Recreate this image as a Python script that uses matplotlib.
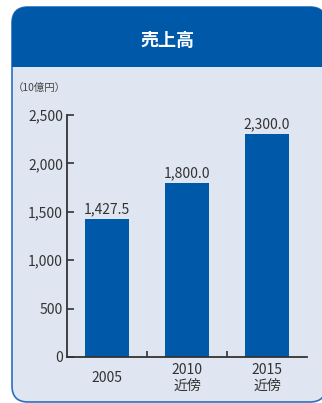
import matplotlib
matplotlib.use("Agg")
import matplotlib.pyplot as plt
from matplotlib.patches import FancyBboxPatch, Rectangle
from matplotlib.ticker import FuncFormatter

plt.rcParams['font.family'] = ['Noto Sans CJK JP', 'DejaVu Sans']

# sales (billion yen)
years = ["2005", "2010\n近傍", "2015\n近傍"]
sales = [1427.5, 1800.0, 2300.0]
yticks = [0, 500, 1000, 1500, 2000, 2500]

BLUE = "#0058a8"
PANEL = "#dfe5f1"
EDGE = "#2a6fc2"
TEXT = "#333333"

W, H = 322, 403
fig = plt.figure(figsize=(W / 100, H / 100), dpi=100)

# background layer in pixel coordinates
bg = fig.add_axes([0, 0, 1, 1])
bg.set_xlim(0, W)
bg.set_ylim(H, 0)
bg.axis("off")

panel = FancyBboxPatch((12, 7), 314, 395, boxstyle="round,pad=0,rounding_size=16",
                       facecolor=PANEL, edgecolor=EDGE, linewidth=1.2, zorder=1)
bg.add_patch(panel)
header = Rectangle((0, 0), W, 67, facecolor=BLUE, edgecolor="none", zorder=2)
bg.add_patch(header)
header.set_clip_path(panel)

bg.text(167, 40, "売上高", color="white", fontsize=13, fontweight="bold",
        ha="center", va="center", zorder=3)
bg.text(13, 88, "（10億円）", color="#444444", fontsize=7.5, ha="left", va="center", zorder=3)

# chart
ax = fig.add_axes([67 / W, 46 / H, 240 / W, 242 / H])
ax.patch.set_alpha(0)
x = list(range(len(years)))
bars = ax.bar(x, sales, width=0.54, color=BLUE, zorder=2)
for xi, v in zip(x, sales):
    ax.text(xi, v + 30, f"{v:,.1f}", ha="center", va="bottom", fontsize=10, color=TEXT)

ax.set_xlim(-0.5, 2.5)
ax.set_ylim(0, 2500)
ax.set_yticks(yticks)
ax.yaxis.set_major_formatter(FuncFormatter(lambda v, p: f"{v:,.0f}"))

ax.set_xticks([0.5, 1.5])
ax.set_xticklabels([])
ax.set_xticks(x, years, minor=True)
ax.tick_params(axis="x", which="major", direction="in", length=4, width=1.2, color=TEXT)
ax.tick_params(axis="x", which="minor", length=0, pad=15, labelsize=10, labelcolor=TEXT)
for lab in ax.get_xticklabels(minor=True):
    lab.set_va("center")
    lab.set_linespacing(1.1)
ax.tick_params(axis="y", direction="in", length=5, width=1.2, color=TEXT,
               pad=3, labelsize=10, labelcolor=TEXT)

for s in ["top", "right"]:
    ax.spines[s].set_visible(False)
for s in ["left", "bottom"]:
    ax.spines[s].set_color(TEXT)
    ax.spines[s].set_linewidth(1.3)

fig.savefig("out.png", dpi=100)
